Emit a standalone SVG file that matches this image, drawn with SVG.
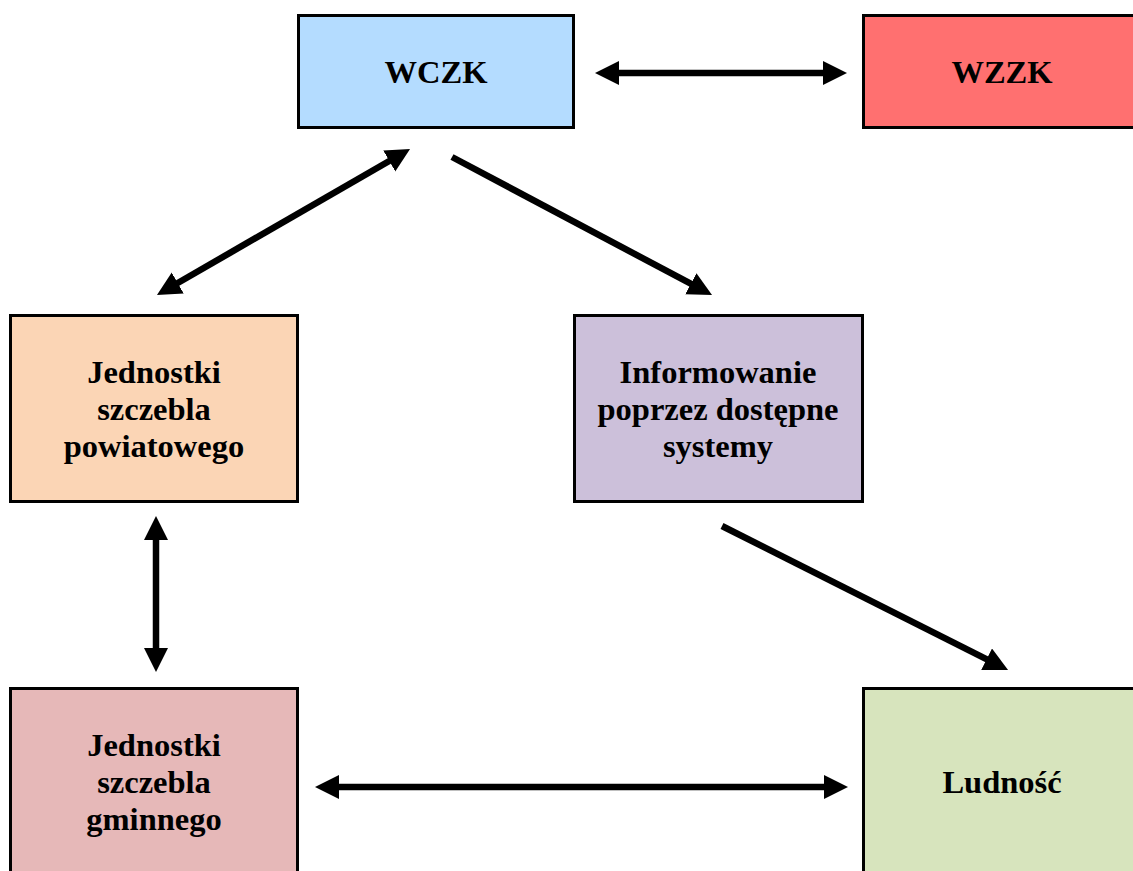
<svg xmlns="http://www.w3.org/2000/svg" width="1133" height="871" viewBox="0 0 1133 871">
<style>
.box{stroke:#000;stroke-width:3}
.t{font-family:"Liberation Serif","Times New Roman",serif;font-weight:bold;font-size:32.5px;text-anchor:middle;fill:#000}
.c{stroke:#000;stroke-width:6.5;fill:none}
</style>
<defs>
<marker id="ah" markerUnits="userSpaceOnUse" markerWidth="26" markerHeight="26" viewBox="0 0 26 26" refX="2" refY="12" orient="auto-start-reverse">
<path d="M0,0 L24,12 L0,24 Z" fill="#000"/>
</marker>
</defs>
<rect width="1133" height="871" fill="#fff"/>
<g id="wczk"><rect class="box" x="298.5" y="15.5" width="275" height="112" fill="#B4DCFF"/><text class="t" x="436" y="83">WCZK</text></g>
<g id="wzzk"><rect class="box" x="863.5" y="15.5" width="275" height="112" fill="#FF7070"/><text class="t" x="1002" y="83">WZZK</text></g>
<g id="powiat"><rect class="box" x="10.5" y="315.5" width="287" height="186" fill="#FBD5B5"/><text class="t" x="154" y="383">Jednostki</text><text class="t" x="154" y="420">szczebla</text><text class="t" x="154" y="457">powiatowego</text></g>
<g id="info"><rect class="box" x="574.5" y="315.5" width="288" height="186" fill="#CCC0DA"/><text class="t" x="718" y="383">Informowanie</text><text class="t" x="718" y="420">poprzez dostępne</text><text class="t" x="718" y="457">systemy</text></g>
<g id="gmina"><rect class="box" x="10.5" y="688.5" width="287" height="190" fill="#E6B8B8"/><text class="t" x="154" y="756">Jednostki</text><text class="t" x="154" y="793">szczebla</text><text class="t" x="154" y="830">gminnego</text></g>
<g id="ludnosc"><rect class="box" x="863.5" y="688.5" width="275" height="190" fill="#D7E4BD"/><text class="t" x="1002" y="793">Ludność</text></g>
<g id="connectors">
<line class="c" x1="617" y1="73" x2="825" y2="73" marker-start="url(#ah)" marker-end="url(#ah)"/>
<line class="c" x1="176" y1="284" x2="391" y2="160" marker-start="url(#ah)" marker-end="url(#ah)"/>
<line class="c" x1="452" y1="157" x2="692.6" y2="284.7" marker-end="url(#ah)"/>
<line class="c" x1="156" y1="538" x2="156" y2="650" marker-start="url(#ah)" marker-end="url(#ah)"/>
<line class="c" x1="722" y1="526" x2="988.4" y2="660.1" marker-end="url(#ah)"/>
<line class="c" x1="337" y1="787" x2="826" y2="787" marker-start="url(#ah)" marker-end="url(#ah)"/>
</g>
</svg>
